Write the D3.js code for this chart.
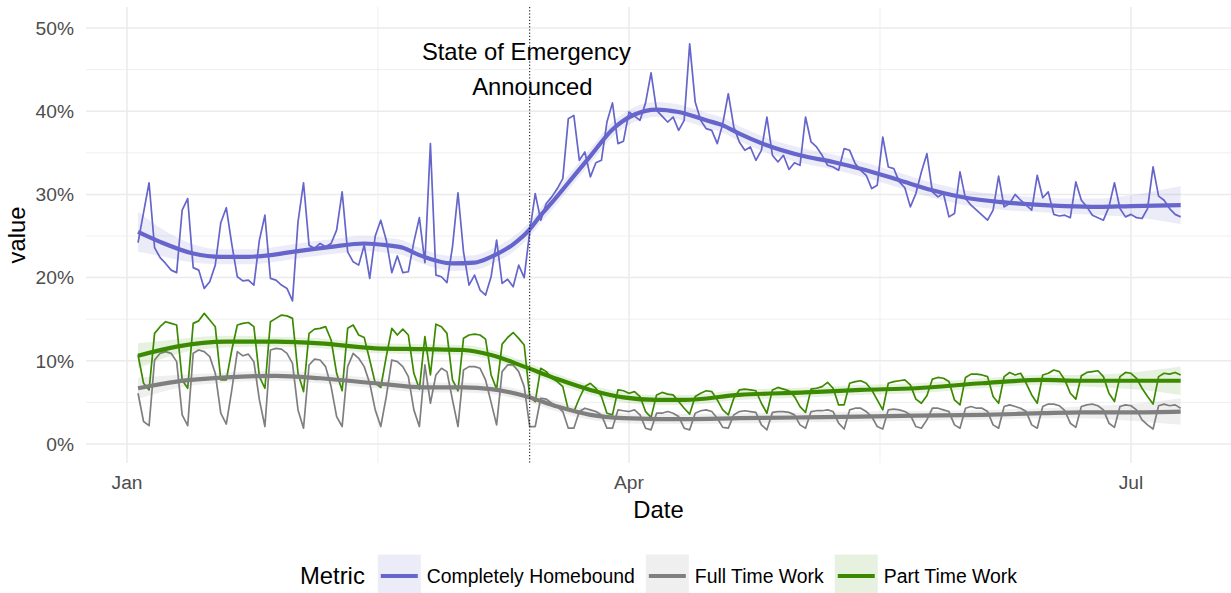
<!DOCTYPE html>
<html>
<head>
<meta charset="utf-8">
<script src="https://cdn.jsdelivr.net/npm/d3@7"></script>
<style>
body { margin: 0; background: #fff; }
text { font-family: "Liberation Sans", Arial, Helvetica, sans-serif; }
</style>
</head>
<body>
<div id="chart"></div>
<script>
// daily values, first value is 2020-01-03 (day 2 counted from Jan 1)
var firstDay = 2;
var homebound = [24.2,27.8,31.4,23.6,22.4,21.7,20.9,20.6,28.1,29.5,
  21.2,20.9,18.7,19.5,21.5,26.6,28.4,24.0,20.1,19.6,
  19.7,19.1,24.5,27.5,19.9,19.7,19.1,18.7,17.2,26.7,
  31.4,23.9,23.5,24.1,23.7,24.1,25.7,30.3,23.1,21.9,
  21.5,23.9,19.9,25.0,26.9,24.5,20.6,22.6,20.6,20.7,
  24.3,27.2,21.8,36.1,20.3,20.1,19.4,23.7,30.2,23.1,
  19.1,20.3,18.5,17.9,20.1,24.5,19.3,19.8,18.9,21.5,
  20.0,25.5,30.1,26.9,28.9,29.7,30.7,31.9,39.1,39.5,
  34.1,35.1,32.1,33.8,34.1,38.7,41.0,36.1,36.4,39.9,
  39.4,38.9,41.0,44.6,40.1,39.4,38.7,39.3,37.7,38.9,
  48.1,41.1,38.9,37.9,37.7,36.1,38.5,42.1,38.1,36.3,
  35.3,35.7,34.1,35.3,39.3,34.7,33.9,34.7,33.0,33.8,
  33.5,39.3,36.3,35.7,34.7,33.5,33.3,32.9,35.5,35.3,
  33.7,32.9,32.3,30.7,31.1,36.9,33.3,33.1,31.5,30.8,
  28.5,30.1,32.7,34.9,30.3,29.7,30.1,27.3,27.7,32.7,
  29.5,28.7,28.1,27.5,26.9,28.1,32.2,28.5,28.9,30.0,
  29.3,28.7,28.1,32.3,29.6,30.3,27.6,27.4,27.5,27.2,
  31.5,29.3,28.5,27.5,27.2,26.9,28.5,31.4,28.3,27.3,
  27.6,27.2,27.1,28.3,33.3,29.8,29.3,28.3,27.6,27.3];
var fullTime = [6.1,2.7,2.2,10.1,10.9,11.1,10.9,9.9,3.5,2.2,
  10.9,11.3,11.1,10.5,8.5,3.7,2.4,6.5,11.1,10.6,
  10.8,9.9,5.3,2.1,11.3,11.5,11.4,10.9,9.7,4.1,
  1.9,9.5,10.2,10.1,9.3,6.9,3.3,2.1,9.3,10.9,
  10.3,9.3,7.3,4.1,2.1,5.7,10.1,9.9,9.3,8.1,
  4.1,2.1,9.5,4.9,8.3,9.1,8.7,5.3,2.1,8.9,
  9.3,9.3,9.1,7.7,5.0,2.3,8.7,9.5,9.5,8.7,
  6.9,2.1,2.1,5.5,5.4,4.9,4.5,3.9,1.9,1.9,
  3.9,4.3,4.1,3.9,3.5,1.9,1.9,4.1,4.0,3.9,
  4.1,3.5,1.9,1.7,3.7,3.7,3.9,3.7,3.3,1.9,
  1.7,3.7,4.0,4.1,3.9,3.1,2.0,1.9,3.5,3.9,
  4.0,3.9,3.8,2.3,1.7,3.8,3.9,3.9,3.8,3.5,
  2.3,1.9,3.9,4.0,4.0,4.1,3.9,2.5,1.8,4.1,
  4.3,4.3,3.9,3.3,2.1,1.8,4.1,4.2,4.1,3.9,
  3.5,2.1,1.9,2.9,4.3,4.3,4.1,3.9,2.3,1.9,
  4.3,4.5,4.3,4.3,3.9,2.3,1.9,4.5,4.7,4.5,
  4.3,3.9,2.3,1.9,4.5,4.8,4.8,4.6,4.0,2.5,
  2.0,4.5,4.7,4.8,4.6,4.1,2.5,2.0,4.5,4.7,
  4.6,4.1,2.9,2.3,1.8,4.6,4.8,4.6,4.7,4.3];
var partTime = [10.7,7.3,6.5,13.3,14.1,14.7,14.5,14.3,7.7,6.7,
  14.5,14.8,15.7,14.9,14.1,7.7,7.7,11.3,14.3,14.5,
  14.6,14.1,8.1,6.7,14.7,15.1,15.5,15.4,15.1,8.5,
  6.3,13.3,13.8,13.9,14.1,12.5,8.5,6.4,13.9,14.3,
  13.1,12.8,10.1,7.3,6.8,10.5,13.9,13.1,13.8,13.1,
  8.5,6.6,12.9,8.3,14.4,14.1,13.3,7.7,6.4,12.7,
  13.1,13.2,13.1,12.6,8.3,6.6,12.0,12.8,13.4,12.7,
  11.9,5.7,5.1,9.1,8.7,7.9,7.5,6.9,4.1,3.9,
  5.5,6.9,7.3,6.7,5.7,3.7,3.5,6.5,6.4,6.1,
  6.3,5.7,3.9,3.2,5.9,6.2,6.0,5.9,5.1,4.3,
  3.6,5.7,6.1,6.4,6.3,5.3,4.1,3.5,5.5,6.5,
  6.6,6.5,6.4,4.9,3.7,6.5,6.8,6.6,6.4,5.7,
  4.5,3.8,6.6,6.7,6.9,7.4,6.7,4.7,4.7,7.3,
  7.5,7.6,7.3,6.5,5.3,4.1,7.3,7.5,7.6,7.7,
  7.1,5.4,4.9,5.8,7.8,8.0,7.9,7.5,5.3,4.7,
  8.0,8.4,8.4,8.3,8.1,5.7,4.9,8.1,8.6,8.3,
  8.5,7.3,5.9,4.9,8.3,8.5,8.9,8.7,7.7,6.1,
  5.4,8.2,8.6,8.7,8.8,8.1,6.1,5.1,8.1,8.6,
  8.5,7.9,6.7,5.7,4.8,8.1,8.5,8.4,8.6,8.3];

// smoothed trend and half width of its band, read at these days
var homeSmoothDays = [2,6,12,17,22,26,30,37,43,47,50,53,59,63,66,70,73,75,77,80,84,88,92,96,100,105,108,111,116,122,128,134,140,146,152,158,164,170,176,182,191];
var homeSmooth = [25.5,24.3,22.9,22.5,22.5,22.7,23.1,23.7,24.1,23.9,23.6,22.7,21.7,21.8,22.5,24.0,25.8,27.5,29.0,31.4,34.6,37.8,39.6,40.2,39.9,38.9,38.3,37.3,35.9,34.7,33.9,32.9,31.7,30.5,29.6,29.1,28.8,28.6,28.5,28.6,28.7];
var homeBand = [2.4,1.7,1.1,0.9,0.9,0.9,0.9,0.9,0.9,0.9,0.9,0.9,0.9,0.9,0.9,0.9,0.9,0.9,0.9,0.9,0.9,0.9,0.9,0.9,0.9,0.9,0.9,0.9,0.9,0.9,0.9,0.9,0.9,0.9,0.9,0.9,0.9,0.9,1.0,1.3,2.3];
var workSmoothDays = [2,9,18,27,35,45,54,61,66,72,78,84,90,96,101,111,123,133,143,155,166,173,182,191];
var fullSmooth = [6.7,7.5,8.0,8.2,7.9,7.3,6.8,6.8,6.6,5.8,4.5,3.5,3.1,3.0,3.0,3.1,3.2,3.3,3.4,3.5,3.7,3.8,3.8,3.9];
var fullBand = [1.3,0.8,0.6,0.6,0.6,0.6,0.6,0.6,0.6,0.6,0.6,0.6,0.6,0.6,0.6,0.6,0.6,0.6,0.6,0.6,0.6,0.7,1.0,1.6];
var partSmooth = [10.6,11.7,12.3,12.3,12.1,11.5,11.4,11.3,10.7,9.3,7.8,6.5,5.6,5.3,5.3,5.9,6.2,6.5,6.7,7.3,7.7,7.6,7.6,7.6];
var partBand = [1.5,0.9,0.7,0.6,0.6,0.6,0.6,0.6,0.6,0.6,0.6,0.6,0.6,0.6,0.6,0.6,0.6,0.6,0.6,0.6,0.6,0.7,1.0,1.7];

var metrics = ["Completely Homebound", "Full Time Work", "Part Time Work"];
var colors = ["#6565cb", "#7f7f7f", "#3c8a00"];
var yTicks = [0, 10, 20, 30, 40, 50];
var yMinor = [5, 15, 25, 35, 45];
var xTicks = ["2020-01-01", "2020-04-01", "2020-07-01"];
var xMinor = ["2020-02-15T12:00:00Z", "2020-05-16T12:00:00Z"];
var xTickLabels = ["Jan", "Apr", "Jul"];
var emergencyDay = "2020-03-14";
var emergencyText = ["State of Emergency ", " Announced"];
var emergencyY = 45;

var W = 1231, H = 593;
var panel = { left: 86, right: 1231, top: 7, bottom: 463 };

var start = new Date(Date.UTC(2020, 0, 1));
function dayDate(d) { return d3.utcDay.offset(start, d); }

var x = d3.scaleUtc()
  .domain([new Date("2020-01-01T00:00:00Z"), new Date("2020-07-01T00:00:00Z")])
  .range([127, 1131]);
var y = d3.scaleLinear().domain([0, 50]).range([444, 28]);

var series = [
  { name: metrics[0], raw: homebound, days: homeSmoothDays, fit: homeSmooth, band: homeBand },
  { name: metrics[1], raw: fullTime, days: workSmoothDays, fit: fullSmooth, band: fullBand },
  { name: metrics[2], raw: partTime, days: workSmoothDays, fit: partSmooth, band: partBand }
];
series.forEach(function (s, i) {
  s.color = colors[i];
  s.points = s.raw.map(function (v, k) { return { date: dayDate(firstDay + k), v: v }; });
  s.trend = s.days.map(function (d, k) {
    return { date: dayDate(d), v: s.fit[k], lo: s.fit[k] - s.band[k], hi: s.fit[k] + s.band[k] };
  });
});

var svg = d3.select("#chart").append("svg")
  .attr("width", W).attr("height", H);

svg.append("defs").append("clipPath").attr("id", "panelClip")
  .append("rect")
  .attr("x", panel.left).attr("y", panel.top)
  .attr("width", panel.right - panel.left).attr("height", panel.bottom - panel.top);

// grid
var grid = svg.append("g");
grid.selectAll(".ymin").data(yMinor).enter().append("line")
  .attr("x1", panel.left).attr("x2", panel.right)
  .attr("y1", function (d) { return y(d); }).attr("y2", function (d) { return y(d); })
  .attr("stroke", "#ebebeb").attr("stroke-width", 0.8);
grid.selectAll(".xmin").data(xMinor).enter().append("line")
  .attr("y1", panel.top).attr("y2", panel.bottom)
  .attr("x1", function (d) { return x(new Date(d)); }).attr("x2", function (d) { return x(new Date(d)); })
  .attr("stroke", "#ebebeb").attr("stroke-width", 0.8);
grid.selectAll(".ymaj").data(yTicks).enter().append("line")
  .attr("x1", panel.left).attr("x2", panel.right)
  .attr("y1", function (d) { return y(d); }).attr("y2", function (d) { return y(d); })
  .attr("stroke", "#ebebeb").attr("stroke-width", 1.5);
grid.selectAll(".xmaj").data(xTicks).enter().append("line")
  .attr("y1", panel.top).attr("y2", panel.bottom)
  .attr("x1", function (d) { return x(new Date(d)); }).attr("x2", function (d) { return x(new Date(d)); })
  .attr("stroke", "#ebebeb").attr("stroke-width", 1.5);

var plot = svg.append("g").attr("clip-path", "url(#panelClip)");

var line = d3.line()
  .x(function (d) { return x(d.date); })
  .y(function (d) { return y(d.v); });
var smooth = d3.line()
  .curve(d3.curveMonotoneX)
  .x(function (d) { return x(d.date); })
  .y(function (d) { return y(d.v); });
var band = d3.area()
  .curve(d3.curveMonotoneX)
  .x(function (d) { return x(d.date); })
  .y0(function (d) { return y(d.lo); })
  .y1(function (d) { return y(d.hi); });

// raw daily lines
plot.selectAll(".raw").data(series).enter().append("path")
  .attr("fill", "none")
  .attr("stroke", function (d) { return d.color; })
  .attr("stroke-width", 1.7)
  .attr("stroke-linejoin", "round")
  .attr("d", function (d) { return line(d.points); });

// confidence bands
plot.selectAll(".band").data(series).enter().append("path")
  .attr("fill", function (d) { return d.color; })
  .attr("fill-opacity", 0.12)
  .attr("d", function (d) { return band(d.trend); });

// trend lines
plot.selectAll(".trend").data(series).enter().append("path")
  .attr("fill", "none")
  .attr("stroke", function (d) { return d.color; })
  .attr("stroke-width", 4.2)
  .attr("d", function (d) { return smooth(d.trend); });

// emergency marker
var ex = x(new Date(emergencyDay + "T00:00:00Z"));
plot.append("line")
  .attr("x1", ex).attr("x2", ex)
  .attr("y1", panel.top).attr("y2", panel.bottom)
  .attr("stroke", "#000").attr("stroke-width", 1)
  .attr("stroke-dasharray", "1.2,2");

svg.append("g").selectAll("text").data(emergencyText).enter().append("text")
  .attr("xml:space", "preserve")
  .style("white-space", "pre")
  .attr("x", ex)
  .attr("y", function (d, i) { return y(emergencyY) + (i === 0 ? -17.5 : 17.5); })
  .attr("dy", "0.35em")
  .attr("text-anchor", "middle")
  .attr("font-size", 23.8)
  .attr("fill", "#000")
  .text(function (d) { return d; });

// axes labels
svg.append("g").selectAll("text").data(yTicks).enter().append("text")
  .attr("x", 74)
  .attr("y", function (d) { return y(d); })
  .attr("dy", "0.35em")
  .attr("text-anchor", "end")
  .attr("font-size", 19.2)
  .attr("fill", "#4d4d4d")
  .text(function (d) { return d + "%"; });

svg.append("g").selectAll("text").data(xTicks).enter().append("text")
  .attr("x", function (d) { return x(new Date(d)); })
  .attr("y", 482)
  .attr("dy", "0.35em")
  .attr("text-anchor", "middle")
  .attr("font-size", 19.2)
  .attr("fill", "#4d4d4d")
  .text(function (d, i) { return xTickLabels[i]; });

svg.append("text")
  .attr("x", (panel.left + panel.right) / 2)
  .attr("y", 510)
  .attr("dy", "0.35em")
  .attr("text-anchor", "middle")
  .attr("font-size", 23.8)
  .text("Date");

svg.append("text")
  .attr("transform", "translate(17," + ((panel.top + panel.bottom) / 2) + ") rotate(-90)")
  .attr("dy", "0.35em")
  .attr("text-anchor", "middle")
  .attr("font-size", 23.8)
  .text("value");

// legend
var legY = 576, keyW = 43, keyH = 43;
var legend = svg.append("g");
var title = legend.append("text")
  .attr("y", legY).attr("dy", "0.35em")
  .attr("font-size", 23.8)
  .text("Metric");
var cx = 0;
cx += title.node().getComputedTextLength() + 13;
series.forEach(function (s) {
  var g = legend.append("g").attr("transform", "translate(" + cx + ",0)");
  g.append("rect")
    .attr("x", 0).attr("y", legY - keyH / 2)
    .attr("width", keyW).attr("height", keyH)
    .attr("fill", s.color).attr("fill-opacity", 0.12);
  g.append("line")
    .attr("x1", 3).attr("x2", keyW - 3)
    .attr("y1", legY).attr("y2", legY)
    .attr("stroke", s.color).attr("stroke-width", 4.2);
  var t = g.append("text")
    .attr("x", keyW + 6).attr("y", legY).attr("dy", "0.35em")
    .attr("font-size", 19.4)
    .text(s.name);
  cx += keyW + 6 + t.node().getComputedTextLength() + 11;
});
var legW = cx - 11;
legend.attr("transform", "translate(" + ((panel.left + panel.right) / 2 - legW / 2) + ",0)");
</script>
</body>
</html>
